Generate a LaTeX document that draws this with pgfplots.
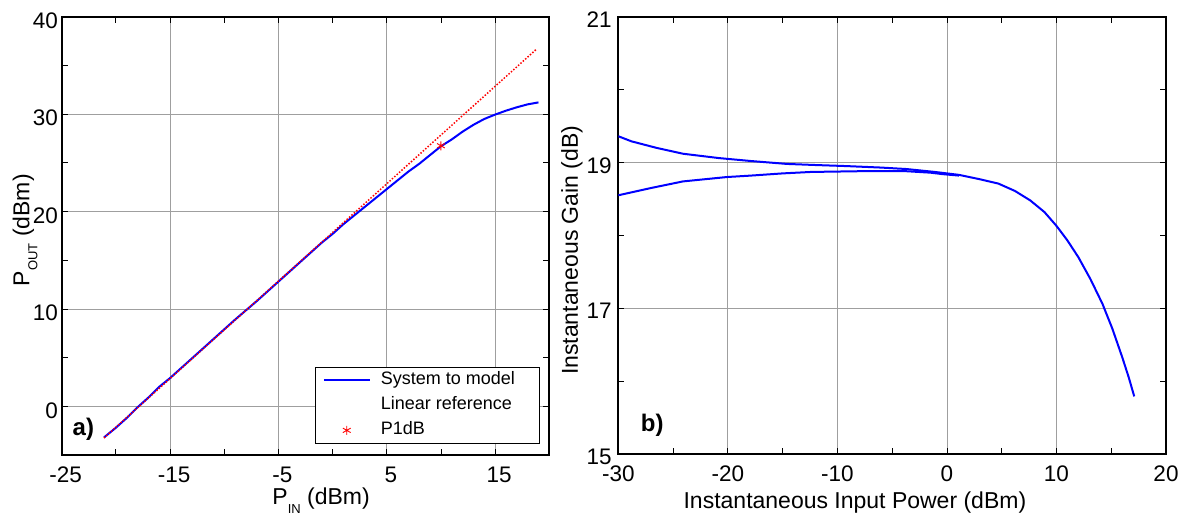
\documentclass[border=0pt]{standalone}
\usepackage{pgfplots}
\pgfplotsset{compat=1.18}
\usepackage{fontspec}
\setmainfont{Liberation Sans}
\definecolor{mblue}{RGB}{0,0,255}
\definecolor{mred}{RGB}{255,0,0}
\pgfplotsset{
  mystyle/.style={
    scale only axis, anchor=south west,
    axis line style={line width=1.7pt},
    grid=major,
    major grid style={draw=gray!75, line width=0.8pt},
    minor grid style={draw=none},
    tick style={black, line width=0.8pt},
    major tick length=6pt, minor tick length=6pt,
    tick align=inside,
    /pgf/number format/assume math mode=true,
    tick label style={font=\fontsize{22.5}{26}\selectfont},
    label style={font=\fontsize{23}{27}\selectfont, inner sep=0pt},
    xticklabel style={anchor=center, inner sep=0pt, yshift=-20pt},
  },
  bluelegend/.style={legend image code/.code={\draw[draw=mblue, line width=2pt] (0pt,0pt) -- (46pt,0pt);}},
  redlegend/.style={legend image code/.code={%
    \node[draw=none, fill=none, inner sep=0pt, text height=0.8pt, text depth=0.8pt, anchor=west] at (0pt,0pt)
      {\color{mred}\leaders\hbox to 3.1pt{\rule[-0.8pt]{1.6pt}{1.6pt}\hss}\hskip 46pt\relax};}},
  marklegend/.style={legend image code/.code={\draw[##1] plot coordinates {(23pt,0pt)};}},
}
\begin{document}
\begin{tikzpicture}
\path[use as bounding box] (0pt,0pt) rectangle (1186pt,515pt);
% ---------------- a) ----------------
\begin{axis}[mystyle,
  at={(61.7pt,60pt)}, width=487.6pt, height=438.3pt,
  xmin=-25, xmax=20, ymin=-5, ymax=40,
  xtick={-25,-15,-5,5,15}, minor xtick={-20,-10,0,10},
  ytick={0,10,20,30,40}, minor ytick={5,15,25,35},
  xticklabel style={xshift=4pt},
  yticklabel style={anchor=east, inner sep=0pt, xshift=-3.5pt, yshift=-4pt},
  xlabel={P\raisebox{-0.35em}{\fontsize{13}{13}\selectfont IN} (dBm)},
  ylabel={P\raisebox{-0.35em}{\fontsize{13}{13}\selectfont OUT} (dBm)},
  xlabel style={at={(axis description cs:0.532,-0.114)}, anchor=base},
  ylabel style={at={(axis description cs:-0.075,0.513)}, anchor=center},
  legend style={at={(rel axis cs:0.981,0.025)}, anchor=south east,
    draw=black, line width=1.4pt, font=\fontsize{18}{21}\selectfont,
    inner xsep=7pt, inner ysep=2pt, row sep=3pt, /tikz/column sep=7.5pt,
    nodes={inner sep=2.5pt, text height=13pt, text depth=4pt}},
  legend cell align=left,
]
\addplot[mblue, line width=2pt, bluelegend] coordinates {
(-21.1,-3.2) (-20,-2.2) (-19,-1.2) (-18,-0.1) (-17,0.9) (-16,2.0) (-15,2.9)
(-13,4.9) (-11,6.9) (-9,8.9) (-7,10.8) (-5,12.8) (-3,14.8) (-1,16.8)
(0,17.7) (1,18.7) (2,19.6) (3,20.5) (4,21.4) (5,22.3) (6,23.2) (7,24.1)
(8,24.9) (9,25.8) (10,26.7) (11,27.4) (12,28.2) (13,28.9) (14,29.5)
(15,29.95) (16,30.35) (17,30.7) (18,31.0) (19,31.2)
};
\addlegendentry{System to model\hspace*{15pt}}
\addplot[mred, line width=1.5pt, dash pattern=on 1.5pt off 1.7pt, redlegend] coordinates {
(-21.1,-3.25) (18.8,36.65)
};
\addlegendentry{Linear reference}
\addplot[only marks, mark=asterisk, mark size=4.5pt, mark options={draw=mred, line width=0.9pt}, marklegend] coordinates {
(10,26.75)
};
\addlegendentry{P1dB}
\node[font=\fontsize{24}{27}\selectfont\bfseries] at (axis cs:-23,-2.35) {a)};
\end{axis}
% ---------------- b) ----------------
\begin{axis}[mystyle,
  at={(618.3pt,61pt)}, width=547.7pt, height=437.3pt,
  xmin=-30, xmax=20, ymin=15, ymax=21,
  xtick={-30,-20,-10,0,10,20}, minor xtick={-25,-15,-5,5,15},
  ytick={15,17,19,21}, minor ytick={16,18,20},
  yticklabel style={anchor=east, inner sep=0pt, xshift=-6.5pt, yshift=-3pt},
  xlabel={Instantaneous Input Power (dBm)},
  ylabel={Instantaneous Gain (dB)},
  xlabel style={at={(axis description cs:0.432,-0.1235)}, anchor=base},
  ylabel style={at={(axis description cs:-0.0845,0.466)}, anchor=center},
]
\addplot[mblue, line width=2pt] coordinates {
(-30,19.36) (-28.8,19.29) (-26.5,19.20) (-24.1,19.12) (-20.8,19.06)
(-17.9,19.02) (-14.6,18.98) (-12,18.965) (-9.1,18.95) (-6,18.93) (-3.7,18.91)
(-1.1,18.87) (1.1,18.83) (3,18.77) (4.7,18.71) (6.2,18.61) (7.6,18.48)
(8.9,18.32) (10,18.13) (11,17.93) (12,17.70) (13.1,17.40) (14.2,17.06)
(15.1,16.72) (16,16.33) (16.6,16.05) (17.1,15.79)
};
\addplot[mblue, line width=2pt] coordinates {
(-30,18.55) (-27,18.65) (-24.1,18.74) (-20.1,18.80) (-17.9,18.82)
(-15,18.85) (-12.4,18.87) (-8,18.88) (-3.7,18.88) (-1.5,18.86) (-0.4,18.84) (1.1,18.82)
};
\node[font=\fontsize{24}{27}\selectfont\bfseries] at (axis cs:-26.9,15.4) {b)};
\end{axis}
\end{tikzpicture}
\end{document}
